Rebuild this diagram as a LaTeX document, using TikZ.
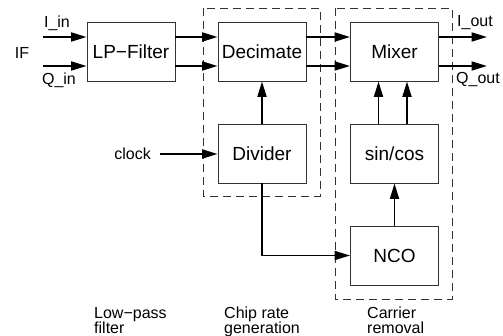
\documentclass[tikz,border=0pt]{standalone}
\usepackage{fontspec}
\setmainfont{Liberation Sans}
\usetikzlibrary{arrows.meta,calc}
\begin{document}
\begin{tikzpicture}[x=1pt,y=-1pt,
  blk/.style={draw=black!80,line width=0.9pt,minimum width=88pt,minimum height=59pt,inner sep=0pt,font=\fontsize{19}{22}\selectfont},
  arr/.style={line width=1.9pt,-{Triangle[length=15.5pt,width=9pt]}},
  grp/.style={draw=black!80,line width=0.9pt,dash pattern=on 8pt off 5pt},
  lbl/.style={inner sep=0pt,font=\fontsize{16}{18}\selectfont},
  captxt/.style={inner sep=0pt,align=left,anchor=north west,font=\fontsize{16}{15}\selectfont}]
\useasboundingbox (0,0) rectangle (503,336);
% groups
\draw[grp] (203,8) rectangle (320,196);
\draw[grp] (335,8) rectangle (452,299);
% blocks
\node[blk] (lp)  at (131,51.5)  {LP−Filter};
\node[blk] (dec) at (262,51.5)  {Decimate};
\node[blk] (mix) at (394.5,51.5) {Mixer};
\node[blk] (div) at (262,153.5) {Divider};
\node[blk] (sc)  at (394.5,153.5) {sin/cos};
\node[blk] (nco) at (394.5,255.5) {NCO};
% inputs
\coordinate (iin) at (43,37);
\coordinate (qin) at (43,66);
\coordinate (clk) at (160,154);
\coordinate (iout) at (487,37);
\coordinate (qout) at (487,66);
\draw[arr] (iin) -- (iin -| lp.west);
\draw[arr] (qin) -- (qin -| lp.west);
\draw[arr] (iin -| lp.east) -- (iin -| dec.west);
\draw[arr] (qin -| lp.east) -- (qin -| dec.west);
\draw[arr] (iin -| dec.east) -- (iin -| mix.west);
\draw[arr] (qin -| dec.east) -- (qin -| mix.west);
\draw[arr] (iin -| mix.east) -- (iout);
\draw[arr] (qin -| mix.east) -- (qout);
\draw[arr] (clk) -- (clk -| div.west);
\draw[arr] (div.north) -- (dec.south);
\draw[arr] ($(sc.north)+(-16,0)$) -- ($(mix.south)+(-16,0)$);
\draw[arr] ($(sc.north)+(12.5,0)$) -- ($(mix.south)+(12.5,0)$);
\draw[arr] (nco.north) -- (sc.south);
\draw[arr] (div.south) -- (div.south |- nco.west) -- (nco.west);
% labels
\node[lbl] (lin) at (57,23) {I\_in};
\node[lbl] (lif) at (22,53) {IF};
\node[lbl] (lqin) at (59,80) {Q\_in};
\node[lbl] (liout) at (475,23) {I\_out};
\node[lbl] (lqout) at (478,80) {Q\_out};
\node[lbl,anchor=east] (lclk) at (151,154) {clock};
\node[captxt] (c1) at (94,307) {Low−pass\\filter};
\node[captxt] (c2) at (224,307) {Chip rate\\generation};
\node[captxt] (c3) at (367,307) {Carrier\\removal};
\end{tikzpicture}
\end{document}
